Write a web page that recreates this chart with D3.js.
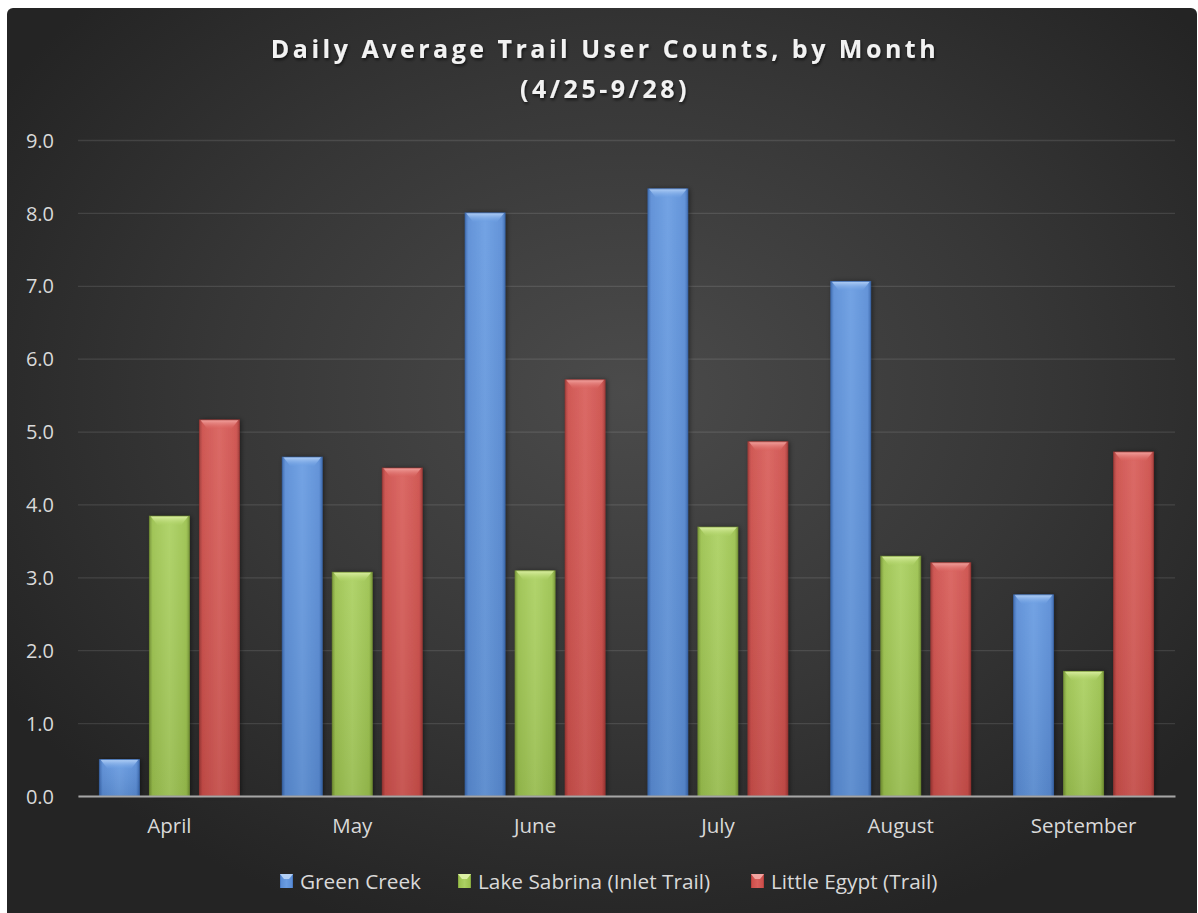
<!DOCTYPE html>
<html>
<head>
<meta charset="utf-8">
<script src="https://cdn.jsdelivr.net/npm/d3@7/dist/d3.min.js"></script>
<style>
  html, body { margin: 0; padding: 0; background: #ffffff; }
  svg { display: block; }
</style>
</head>
<body>
<svg id="chart" width="1198" height="913"></svg>
<script>
// Monthly categories and per-trail daily averages
const months = ["April", "May", "June", "July", "August", "September"];
const seriesNames = ["Green Creek", "Lake Sabrina (Inlet Trail)", "Little Egypt (Trail)"];
const greenCreek = [0.50, 4.65, 8.00, 8.33, 7.06, 2.76];
const lakeSabrina = [3.84, 3.07, 3.09, 3.69, 3.29, 1.71];
const littleEgypt = [5.16, 4.50, 5.71, 4.86, 3.20, 4.72];
const yTicks = [0, 1, 2, 3, 4, 5, 6, 7, 8, 9];

const seriesValues = [greenCreek, lakeSabrina, littleEgypt];
const palette = [
  { base: "#5a8dd6", light: "#6a9de2", dark: "#3b69b0", top: "#b3d0f6" },
  { base: "#9cc24f", light: "#acd163", dark: "#779734", top: "#dcf0a4" },
  { base: "#cd4f4b", light: "#d9605c", dark: "#a23835", top: "#f2a4a0" }
];

const svg = d3.select("#chart");
const W = 1198, H = 913;
const margin = { left: 78, right: 23, top: 140, bottom: 117 };
const plotW = W - margin.left - margin.right;
const plotH = H - margin.top - margin.bottom;
const font = "'Open Sans', sans-serif";

const defs = svg.append("defs");

// background radial glow
const bg = defs.append("radialGradient").attr("id", "bgGrad")
  .attr("cx", "52%").attr("cy", "42%").attr("r", "62%");
bg.append("stop").attr("offset", "0%").attr("stop-color", "#4b4b4b");
bg.append("stop").attr("offset", "55%").attr("stop-color", "#373737");
bg.append("stop").attr("offset", "100%").attr("stop-color", "#242424");

svg.append("rect").attr("x", 7).attr("y", 8).attr("width", 1190).attr("height", 915)
  .attr("rx", 6).attr("fill", "url(#bgGrad)");

// bar gradients: rounded side shading plus a lit top bevel
palette.forEach((p, i) => {
  const g = defs.append("linearGradient").attr("id", "barGrad" + i)
    .attr("x1", "0%").attr("x2", "100%").attr("y1", "0%").attr("y2", "0%");
  g.append("stop").attr("offset", "0%").attr("stop-color", p.dark);
  g.append("stop").attr("offset", "8%").attr("stop-color", p.base);
  g.append("stop").attr("offset", "50%").attr("stop-color", p.light);
  g.append("stop").attr("offset", "92%").attr("stop-color", p.base);
  g.append("stop").attr("offset", "100%").attr("stop-color", p.dark);
  const t = defs.append("linearGradient").attr("id", "topGrad" + i)
    .attr("x1", "0%").attr("x2", "0%").attr("y1", "0%").attr("y2", "100%");
  t.append("stop").attr("offset", "0%").attr("stop-color", p.top).attr("stop-opacity", 1);
  t.append("stop").attr("offset", "100%").attr("stop-color", p.light).attr("stop-opacity", 0.3);
});
const shade = defs.append("linearGradient").attr("id", "vShade")
  .attr("x1", "0%").attr("x2", "0%").attr("y1", "0%").attr("y2", "100%");
shade.append("stop").attr("offset", "0%").attr("stop-color", "#fff").attr("stop-opacity", 0.06);
shade.append("stop").attr("offset", "100%").attr("stop-color", "#000").attr("stop-opacity", 0.08);

const shadow = defs.append("filter").attr("id", "barShadow")
  .attr("x", "-20%").attr("y", "-5%").attr("width", "150%").attr("height", "110%");
shadow.append("feDropShadow").attr("dx", 1.5).attr("dy", 0).attr("stdDeviation", 2.5)
  .attr("flood-color", "#000").attr("flood-opacity", 0.5);

const titleShadow = defs.append("filter").attr("id", "textShadow");
titleShadow.append("feDropShadow").attr("dx", 1).attr("dy", 2).attr("stdDeviation", 1.5)
  .attr("flood-color", "#000").attr("flood-opacity", 0.6);

const x0 = d3.scaleBand().domain(months).range([margin.left, margin.left + plotW]).paddingInner(0).paddingOuter(0);
const groupFrac = 140 / 182.8;
const x1 = d3.scaleBand().domain(d3.range(3))
  .range([0, x0.bandwidth() * groupFrac]).paddingInner(0.2).paddingOuter(0);
const groupOffset = (x0.bandwidth() - x0.bandwidth() * groupFrac) / 2;
const y = d3.scaleLinear().domain([0, 9]).range([margin.top + plotH, margin.top]);

// gridlines
const grid = svg.append("g").attr("class", "grid")
  .attr("transform", `translate(${margin.left},0)`)
  .call(d3.axisLeft(y).tickValues(yTicks).tickSize(-plotW).tickFormat(""));
grid.select(".domain").remove();
grid.selectAll("line").attr("stroke", "#ffffff").attr("stroke-opacity", 0.11).attr("stroke-width", 1.3);

// y tick labels
const yAxis = svg.append("g").attr("transform", `translate(${margin.left - 24},0)`)
  .call(d3.axisLeft(y).tickValues(yTicks).tickSize(0).tickPadding(0).tickFormat(d3.format(".1f")));
yAxis.select(".domain").remove();
yAxis.selectAll("text").attr("fill", "#d9d9d9").attr("font-family", font)
  .attr("font-size", 20).attr("dy", "0.36em");

// bars
const groups = svg.append("g").selectAll("g").data(months).join("g")
  .attr("transform", d => `translate(${x0(d) + groupOffset},0)`);

groups.each(function (m, mi) {
  const g = d3.select(this);
  seriesValues.forEach((vals, si) => {
    const v = vals[mi];
    const bx = x1(si), bw = x1.bandwidth();
    const by = y(v), bh = y(0) - y(v);
    const bar = g.append("g");
    bar.append("rect").attr("x", bx).attr("y", by).attr("width", bw).attr("height", bh)
      .attr("fill", `url(#barGrad${si})`).attr("filter", "url(#barShadow)");
    bar.append("rect").attr("x", bx).attr("y", by).attr("width", bw).attr("height", bh)
      .attr("fill", "url(#vShade)");
    const bev = Math.min(9, bh / 2);
    bar.append("path")
      .attr("d", `M${bx + 1},${by} L${bx + bw - 1},${by} L${bx + bw - 8},${by + bev} L${bx + 8},${by + bev} Z`)
      .attr("fill", `url(#topGrad${si})`);
    bar.append("rect").attr("x", bx).attr("y", by).attr("width", bw).attr("height", bh)
      .attr("fill", "none").attr("stroke", palette[si].dark).attr("stroke-opacity", 0.7).attr("stroke-width", 1);
  });
});

// x axis
const xAxis = svg.append("g").attr("transform", `translate(0,${y(0)})`)
  .call(d3.axisBottom(x0).tickSize(0).tickPadding(22));
xAxis.select(".domain").attr("stroke", "#a6a6a6").attr("stroke-width", 2);
xAxis.selectAll("text").attr("fill", "#d9d9d9").attr("font-family", font)
  .attr("font-size", 20.5);

// title
const title = svg.append("text").attr("x", 605).attr("text-anchor", "middle")
  .attr("fill", "#f2f2f2").attr("font-family", font)
  .attr("font-weight", "bold").attr("font-size", 25).attr("letter-spacing", 3.5)
  .attr("filter", "url(#textShadow)");
title.append("tspan").attr("x", 605).attr("y", 58).text("Daily Average Trail User Counts, by Month");
title.append("tspan").attr("x", 605).attr("y", 98).text("(4/25-9/28)");

// legend
const legendX = [280, 458, 751];
const legend = svg.append("g").selectAll("g").data(seriesNames).join("g")
  .attr("transform", (d, i) => `translate(${legendX[i]},${874})`);
legend.append("rect").attr("width", 13).attr("height", 14).attr("y", 0)
  .attr("fill", (d, i) => `url(#barGrad${i})`);
legend.append("path").attr("d", "M0,0 L13,0 L9,5 L4,5 Z")
  .attr("fill", (d, i) => palette[i].top);
legend.append("text").attr("x", 20).attr("y", 7).attr("dy", "0.36em")
  .attr("fill", "#d9d9d9").attr("font-family", font).attr("font-size", 20.8)
  .text(d => d);
</script>
</body>
</html>
